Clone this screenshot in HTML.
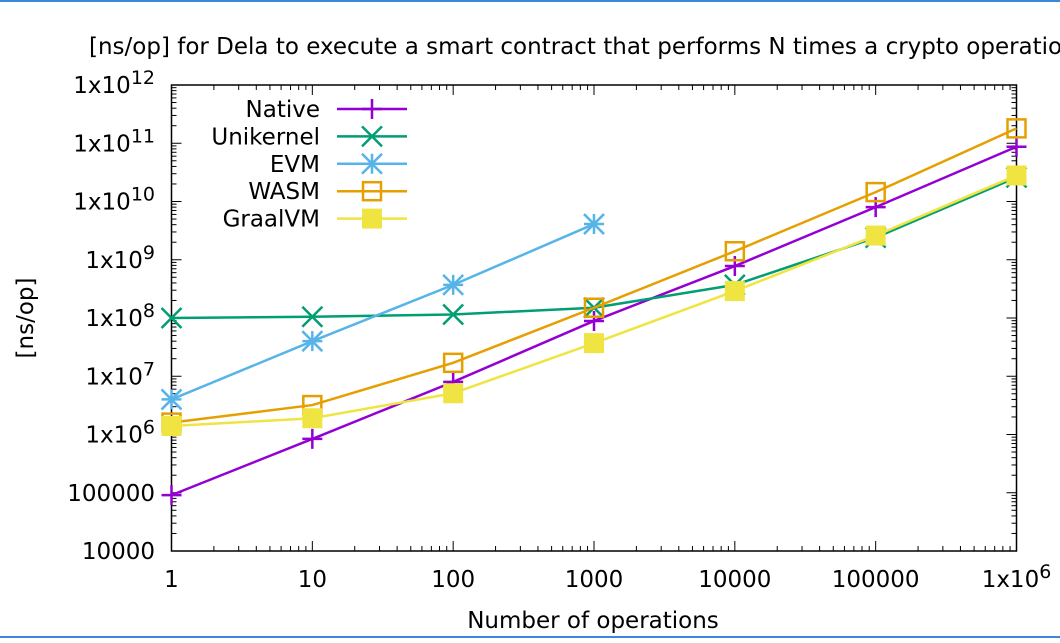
<!DOCTYPE html>
<html><head><meta charset="utf-8"><style>
body{margin:0;background:#fff;width:1060px;height:638px;overflow:hidden}
svg text{font-family:"DejaVu Sans","Liberation Sans",sans-serif;font-size:23px;fill:#000}
</style></head><body>
<svg id="c" width="1060" height="638" xmlns="http://www.w3.org/2000/svg">
<line x1="0" y1="1" x2="1060" y2="1" stroke="#3c87d8" stroke-width="2"/>
<line x1="0" y1="637" x2="1060" y2="637" stroke="#3c87d8" stroke-width="2"/>
<g id="g"></g>
</svg>
<script>
const xCats=[1,10,100,1000,10000,100000,1000000];
const xTickLabels=["1","10","100","1000","10000","100000","1x10^6"];
const yTickVals=[1e4,1e5,1e6,1e7,1e8,1e9,1e10,1e11,1e12];
const yTickLabels=["10000","100000","1x10^6","1x10^7","1x10^8","1x10^9","1x10^10","1x10^11","1x10^12"];
const seriesNames=["Native","Unikernel","EVM","WASM","GraalVM"];
const nativeVals=[9.1e4,8.4e5,8e6,8.9e7,7.8e8,8e9,8.7e10];
const unikernelVals=[1e8,1.05e8,1.15e8,1.5e8,3.7e8,2.4e9,2.6e10];
const evmVals=[4e6,4e7,3.7e8,4.1e9];
const wasmVals=[1.6e6,3.2e6,1.7e7,1.5e8,1.4e9,1.45e10,1.8e11];
const graalVals=[1.4e6,1.9e6,5.1e6,3.7e7,2.9e8,2.6e9,2.8e10];
const colors=["#9400d3","#009e73","#56b4e9","#e69f00","#f0e442"];
const markers=["plus","cross","star","box","fbox"];
const allVals=[nativeVals,unikernelVals,evmVals,wasmVals,graalVals];

const L=171.5,R=1016.5,T=85,B=551;
const NS="http://www.w3.org/2000/svg";
const g=document.getElementById('g');
function X(v){return L+(Math.log10(v)-0)/6*(R-L);}
function Y(v){return B-(Math.log10(v)-4)/8*(B-T);}
function el(t,a,p){const e=document.createElementNS(NS,t);for(const k in a)e.setAttribute(k,a[k]);(p||g).appendChild(e);return e;}
function lbl(e,txt){const p=txt.split('^');e.textContent=p[0];if(p[1]){const s=document.createElementNS(NS,'tspan');s.setAttribute('dy','-9');s.setAttribute('font-size','19');s.textContent=p[1];e.appendChild(s);}}

for(let d=0;d<6;d++)for(let m=2;m<10;m++){const x=X(Math.pow(10,d)*m);
 el('line',{x1:x,y1:B,x2:x,y2:B-5,stroke:'#000'});el('line',{x1:x,y1:T,x2:x,y2:T+5,stroke:'#000'});}
for(let d=4;d<12;d++)for(let m=2;m<10;m++){const y=Y(Math.pow(10,d)*m);
 el('line',{x1:L,y1:y,x2:L+5,y2:y,stroke:'#000'});el('line',{x1:R,y1:y,x2:R-5,y2:y,stroke:'#000'});}
xCats.forEach((v,i)=>{const x=X(v);
 el('line',{x1:x,y1:B,x2:x,y2:B-10,stroke:'#000'});el('line',{x1:x,y1:T,x2:x,y2:T+10,stroke:'#000'});
 const t=el('text',{x:x,y:B+36,'text-anchor':'middle'});
 
 
 lbl(t,xTickLabels[i]);});
yTickVals.forEach((v,i)=>{const y=Y(v);
 el('line',{x1:L,y1:y,x2:L+10,y2:y,stroke:'#000'});el('line',{x1:R,y1:y,x2:R-10,y2:y,stroke:'#000'});
 const t=el('text',{x:155,y:y+8,'text-anchor':'end'});
 
 
 lbl(t,yTickLabels[i]);});
const fr=el('rect',{x:L,y:T,width:R-L,height:B-T,fill:'none',stroke:'#000','stroke-width':1.5});



function marker(type,x,y,c,parent){
 const s=10;
 if(type==='plus'){el('path',{d:`M${x-s} ${y}H${x+s}M${x} ${y-s}V${y+s}`,stroke:c,'stroke-width':2.5,fill:'none'},parent);}
 else if(type==='cross'){el('path',{d:`M${x-s} ${y-s}L${x+s} ${y+s}M${x-s} ${y+s}L${x+s} ${y-s}`,stroke:c,'stroke-width':2.5,fill:'none'},parent);}
 else if(type==='star'){el('path',{d:`M${x-s} ${y}H${x+s}M${x} ${y-s}V${y+s}M${x-s} ${y-s}L${x+s} ${y+s}M${x-s} ${y+s}L${x+s} ${y-s}`,stroke:c,'stroke-width':2.5,fill:'none'},parent);}
 else if(type==='box'){el('rect',{x:x-s+1,y:y-s+1,width:2*s-2,height:2*s-2,stroke:c,'stroke-width':2.5,fill:'none'},parent);}
 else {el('rect',{x:x-s,y:y-s,width:2*s,height:2*s,fill:c},parent);}
}
allVals.forEach((vals,si)=>{
 const grp=el('g',{});
 
 
 const pts=vals.map((v,i)=>X(xCats[i])+','+Y(v)).join(' ');
 el('polyline',{points:pts,fill:'none',stroke:colors[si],'stroke-width':2.5},grp);
 vals.forEach((v,i)=>marker(markers[si],X(xCats[i]),Y(v),colors[si],grp));
 const ly=109+27.4*si;
 const lg=el('g',{});
 
 
 const t=el('text',{x:320,y:ly+8,'text-anchor':'end'},lg);t.textContent=seriesNames[si];
 el('line',{x1:337,y1:ly,x2:407,y2:ly,stroke:colors[si],'stroke-width':2.5},lg);
 marker(markers[si],372,ly,colors[si],lg);
});
const tt=el('text',{x:89,y:54});tt.textContent="[ns/op] for Dela to execute a smart contract that performs N times a crypto operation";


const xt=el('text',{x:593,y:628,'text-anchor':'middle'});xt.textContent="Number of operations";


const yt=el('text',{x:0,y:0,'text-anchor':'middle',transform:'translate(33,318) rotate(-90)'});yt.textContent="[ns/op]";


</script>
</body></html>
